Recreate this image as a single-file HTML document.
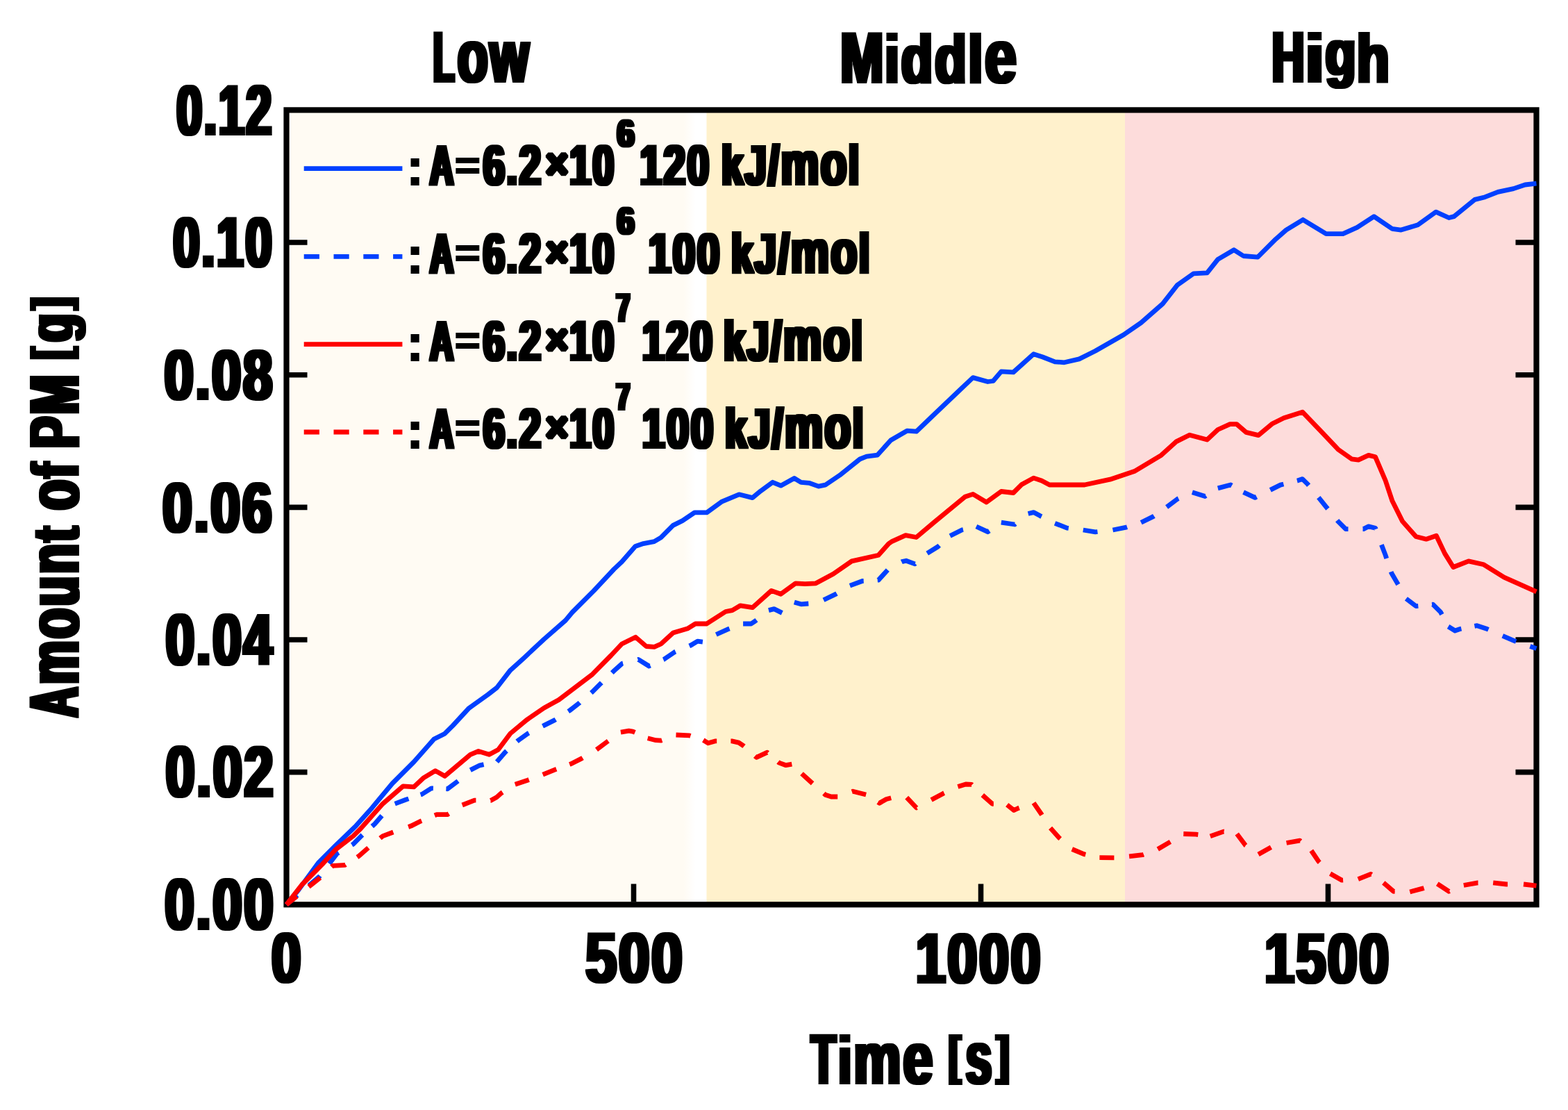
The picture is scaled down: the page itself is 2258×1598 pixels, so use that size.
<!DOCTYPE html>
<html><head><meta charset="utf-8"><title>Amount of PM vs Time</title>
<style>html,body{margin:0;padding:0;background:#fff;}svg{display:block;}</style>
</head><body>
<svg width="2258" height="1598" viewBox="0 0 2258 1598">
<defs>
<filter id="f_title" filterUnits="userSpaceOnUse" x="0" y="0" width="2258" height="1598"><feMorphology operator="dilate" radius="3 1"/></filter>
<filter id="f_title_rot" filterUnits="userSpaceOnUse" x="0" y="0" width="2258" height="1598"><feMorphology operator="dilate" radius="1 3"/></filter>
<filter id="f_tick" filterUnits="userSpaceOnUse" x="0" y="0" width="2258" height="1598"><feMorphology operator="dilate" radius="3 1"/></filter>
<filter id="f_tick_rot" filterUnits="userSpaceOnUse" x="0" y="0" width="2258" height="1598"><feMorphology operator="dilate" radius="1 3"/></filter>
<filter id="f_leg" filterUnits="userSpaceOnUse" x="0" y="0" width="2258" height="1598"><feMorphology operator="dilate" radius="3 1"/></filter>
<filter id="f_leg_rot" filterUnits="userSpaceOnUse" x="0" y="0" width="2258" height="1598"><feMorphology operator="dilate" radius="1 3"/></filter>
<filter id="f_sup" filterUnits="userSpaceOnUse" x="0" y="0" width="2258" height="1598"><feMorphology operator="dilate" radius="2 1"/></filter>
<filter id="f_sup_rot" filterUnits="userSpaceOnUse" x="0" y="0" width="2258" height="1598"><feMorphology operator="dilate" radius="1 2"/></filter>
</defs>
<linearGradient id="gl" gradientUnits="userSpaceOnUse" x1="984" y1="0" x2="1002" y2="0"><stop offset="0" stop-color="#fffbf3"/><stop offset="1" stop-color="#ffffff"/></linearGradient>
<rect x="416" y="162" width="602" height="1137" fill="url(#gl)"/>
<rect x="1017.5" y="162" width="602.5" height="1137" fill="#fff1cc"/>
<rect x="1620" y="162" width="590" height="1137" fill="#fddcdb"/>
<rect x="412.5" y="158.4" width="1800" height="1143.9" fill="none" stroke="#000" stroke-width="8.2"/>
<path d="M416 1111.65H442.5M2182.5 1111.65H2209M416 921.00H442.5M2182.5 921.00H2209M416 730.35H442.5M2182.5 730.35H2209M416 539.70H442.5M2182.5 539.70H2209M416 349.05H442.5M2182.5 349.05H2209M912.5 1272.5V1298.5M1412.5 1272.5V1298.5M1912.5 1272.5V1298.5" stroke="#000" stroke-width="7.6" fill="none"/>
<g fill="none" stroke-width="6.8" stroke-linejoin="round">
<polyline points="412.5,1302.3 430.0,1281.0 458.2,1242.4 483.4,1217.2 512.5,1189.1 535.8,1162.9 564.9,1128.0 595.9,1097.0 625.0,1064.0 640.5,1056.2 652.1,1044.6 675.4,1019.4 702.6,1000.0 715.5,990.0 734.9,964.9 754.3,947.4 783.4,920.2 814.4,893.1 824.1,881.5 855.2,850.4 884.2,819.4 895.5,808.7 914.9,786.4 926.5,782.6 942.1,779.6 951.8,773.8 969.2,756.4 982.8,749.6 1000.2,737.9 1017.7,737.9 1039.0,722.4 1064.2,711.8 1083.6,716.6 1095.3,706.9 1112.7,694.3 1124.4,699.2 1143.8,688.5 1153.5,694.3 1165.1,695.3 1178.7,700.1 1188.4,698.2 1209.1,684.3 1238.2,661.0 1247.9,657.1 1263.4,655.2 1282.8,633.8 1306.1,620.2 1319.6,621.2 1344.9,597.0 1385.6,558.2 1401.1,543.6 1422.4,549.5 1430.2,548.5 1441.8,534.9 1459.3,535.9 1488.4,509.7 1501.6,514.0 1519.1,520.8 1532.7,521.8 1554.0,516.9 1577.3,505.3 1618.0,482.0 1643.2,464.6 1674.3,437.4 1695.6,410.2 1718.9,393.8 1738.3,392.8 1753.8,373.4 1777.0,359.8 1790.6,368.5 1811.2,370.2 1837.2,344.2 1852.1,331.1 1876.3,316.3 1909.7,336.7 1933.9,336.7 1954.4,327.4 1978.6,311.6 2004.6,329.3 2017.6,331.1 2041.8,323.7 2067.9,305.1 2086.5,313.5 2093.9,311.6 2123.7,287.4 2138.5,283.7 2157.1,276.3 2179.5,271.6 2196.2,266.0 2212.5,264.2" stroke="#0040ff"/>
<path d="M412.5 1302.3L428.2 1288.8M444.9 1274.5L448.5 1271.5L460.0 1261.8L460.8 1260.8M474.2 1243.3L485.3 1228.9L487.7 1227.5M506.7 1216.4L508.6 1215.3L520.2 1203.6L521.9 1202.0M535.8 1189.6L539.6 1186.2L550.0 1174.2M568.7 1157.1L584.3 1151.3L588.4 1149.9M605.6 1144.1L607.5 1143.5L621.1 1134.8L623.9 1134.9M642.4 1135.7L644.4 1135.8L659.6 1124.4M677.3 1108.6L690.9 1101.8L696.6 1100.6M715.5 1096.7L727.2 1083.2L729.5 1081.1M744.6 1067.4L746.5 1065.7L760.1 1056.0L761.6 1055.2M781.5 1045.3L783.4 1044.4L798.9 1036.6L800.2 1035.8M818.3 1024.2L820.2 1023.0L833.8 1012.4L834.9 1011.4M851.3 997.5L853.2 995.9L864.9 984.2L866.3 982.8M881.3 968.6L884.2 965.8L895.9 955.2L897.1 954.9M918.5 949.5L919.2 949.3L934.7 959.0L936.5 958.2M955.3 949.6L956.0 949.3L971.5 938.7L972.8 938.1M992.7 929.9L994.8 929.0L1004.5 923.2L1011.9 924.1M1031.3 913.5L1048.7 905.7L1050.5 905.0M1070.1 898.0L1081.7 898.0L1087.5 894.1L1089.4 892.6M1106.9 878.6L1114.7 876.6L1126.3 882.4M1143.8 866.9L1153.5 869.8L1164.3 869.0M1186.0 863.7L1203.9 855.1L1204.9 854.5M1223.9 843.1L1241.8 836.5L1243.7 836.4M1263.7 835.2L1265.0 835.1L1278.3 820.5M1298.3 808.9L1298.9 808.6L1304.9 807.2L1317.5 811.9L1318.0 811.4M1335.2 796.7L1350.7 787.0L1352.7 785.2M1368.1 771.5L1385.6 762.8L1387.0 762.5M1405.9 758.0L1422.4 765.7L1424.7 764.1M1441.8 752.1L1461.2 755.0L1462.3 754.1M1480.6 739.5L1488.4 737.6L1497.8 742.6L1499.9 743.6M1519.1 753.3L1536.5 760.1L1538.8 760.4M1559.8 763.0L1577.3 765.9L1580.5 765.5M1602.5 763.0L1621.9 759.1L1623.1 758.7M1643.2 752.3L1660.7 743.6L1661.9 742.8M1680.1 730.0L1695.6 718.4L1697.1 717.7M1716.9 708.7L1735.3 714.5L1736.7 713.6M1753.8 702.9L1772.2 698.0L1773.9 699.0M1790.6 708.7L1807.3 716.4L1809.6 715.2M1829.3 705.4L1843.9 698.1L1848.4 697.0M1867.9 692.1L1868.3 692.0L1875.6 689.6L1883.0 696.9L1884.6 698.8M1898.8 716.1L1900.0 717.6L1909.8 729.8L1912.0 732.5M1925.7 749.1L1926.9 750.6L1937.9 761.6L1941.5 761.6M1962.5 761.6L1963.5 761.6L1970.8 757.9L1980.6 760.3L1981.2 761.9M1989.4 784.3L1995.2 799.4L1996.7 804.0M2003.2 823.2L2003.8 825.0L2012.3 839.6L2013.4 841.5M2024.9 861.9L2039.1 872.6L2042.3 872.3M2062.0 870.3L2063.5 870.2L2074.5 881.1L2076.4 884.6M2085.6 902.0L2095.3 908.0L2102.6 905.5L2104.4 905.1M2123.4 901.4L2127.0 900.7L2141.6 905.5L2143.4 906.3M2163.8 915.4L2180.7 922.6L2183.2 923.5M2203.4 930.5L2212.5 933.6" stroke="#0040ff" stroke-linejoin="round"/>
<polyline points="412.5,1302.3 429.0,1281.2 434.9,1273.5 448.5,1260.0 464.0,1244.4 483.4,1223.0 508.6,1203.6 520.2,1192.0 551.3,1157.1 580.4,1131.9 595.9,1132.9 609.5,1120.2 626.9,1109.6 640.5,1117.3 677.3,1086.3 689.0,1081.5 704.5,1086.3 717.5,1079.3 734.9,1056.0 758.2,1036.6 783.4,1019.2 804.7,1007.5 853.2,970.7 880.0,943.5 895.5,927.0 915.3,917.3 930.6,930.5 942.2,931.4 951.9,927.0 969.4,911.0 990.7,904.7 1001.4,898.0 1017.7,898.0 1044.9,880.5 1054.6,878.6 1066.2,871.8 1083.6,874.7 1110.8,850.4 1124.4,855.3 1145.7,839.8 1159.3,840.7 1174.8,839.8 1200.0,826.2 1226.5,807.9 1265.0,799.3 1279.7,782.7 1284.7,779.3 1304.1,770.6 1319.6,773.5 1344.9,752.1 1389.5,715.3 1401.1,711.4 1420.5,723.0 1441.8,707.5 1459.3,709.5 1470.9,697.8 1488.4,688.1 1500.0,692.0 1511.3,698.0 1561.8,698.0 1598.6,690.2 1633.5,678.6 1672.3,655.3 1693.6,635.9 1713.0,626.2 1738.3,633.0 1753.8,618.5 1771.2,610.7 1780.9,610.7 1794.5,622.4 1812.2,626.6 1831.7,610.3 1848.8,601.7 1875.6,593.2 1902.5,621.2 1926.9,646.9 1946.4,660.8 1956.2,662.2 1970.8,655.4 1980.6,657.8 1995.2,692.0 2005.0,721.3 2019.6,750.6 2039.1,772.5 2053.8,776.2 2068.4,771.3 2080.6,796.9 2092.8,816.5 2114.8,807.9 2136.7,812.8 2166.0,831.1 2212.5,851.8" stroke="#ff0000"/>
<path d="M412.5 1302.3L427.4 1290.4M444.6 1276.6L448.5 1273.5L461.1 1263.6M477.6 1248.1L479.5 1246.3L497.0 1245.3L497.7 1244.8M514.4 1234.0L516.4 1232.7L530.4 1220.5M547.4 1206.7L551.3 1203.6L566.3 1198.0M588.1 1190.4L592.0 1189.1L605.6 1182.3L607.1 1181.7M625.9 1173.8L628.9 1172.6L644.4 1172.6L646.3 1171.4M665.7 1159.0L683.2 1152.2L685.4 1152.2M706.5 1152.4L706.6 1152.4L715.2 1147.8L721.9 1141.8L723.7 1140.6M741.8 1129.2L759.8 1123.2L761.7 1122.5M781.7 1115.2L799.6 1107.9L801.2 1107.3M820.2 1100.4L822.2 1099.7L837.7 1091.9L839.0 1091.1M859.0 1079.3L874.6 1067.6L875.8 1066.7M893.9 1054.1L905.6 1052.1L911.4 1053.1L914.4 1054.4M932.7 1062.8L944.4 1065.7L952.1 1066.1L953.3 1065.7M973.5 1058.0L992.9 1058.9L994.4 1059.4M1012.8 1065.5L1019.8 1069.8L1029.8 1066.9L1032.2 1066.9M1052.4 1066.9L1053.9 1066.9L1063.8 1069.1L1070.2 1073.3L1071.5 1074.4M1087.2 1088.4L1089.3 1090.3L1104.9 1083.2L1105.7 1083.9M1120.5 1096.9L1121.9 1098.1L1131.8 1101.7L1140.3 1100.2M1154.5 1113.8L1155.9 1115.1L1170.1 1127.9M1186.4 1142.3L1188.5 1144.2L1197.0 1147.0L1206.2 1147.0M1226.8 1139.7L1228.2 1139.2L1247.1 1144.0M1264.3 1154.8L1266.4 1156.2L1276.4 1150.5L1283.2 1148.8M1305.7 1148.1L1319.8 1163.0L1320.2 1162.8M1341.1 1151.6L1358.1 1142.4L1359.6 1141.7M1379.4 1132.5L1390.7 1129.0L1399.2 1129.4L1399.7 1129.9M1414.8 1144.6L1429.0 1157.3L1430.9 1157.4M1450.2 1158.7L1460.1 1166.5L1465.8 1163.7L1467.7 1163.0M1488.5 1155.9L1499.8 1172.2L1500.4 1173.2M1512.6 1192.0L1525.3 1206.2L1526.8 1207.5M1543.8 1222.5L1560.8 1229.6L1563.3 1230.2M1583.4 1234.6L1604.1 1234.8L1604.4 1234.8M1626.1 1232.8L1645.3 1230.7L1646.9 1230.1M1667.3 1222.5L1683.7 1212.9L1685.4 1211.9M1704.3 1200.5L1722.2 1201.2L1725.3 1201.6M1742.8 1203.9L1762.0 1197.1L1762.6 1197.2M1781.2 1200.5L1793.6 1217.0L1793.9 1217.2M1812.1 1230.0L1830.4 1219.8M1852.6 1213.5L1871.8 1210.1L1872.9 1211.1M1888.3 1224.5L1898.8 1240.2L1900.3 1241.7M1915.6 1257.7L1932.4 1267.2L1934.1 1267.1M1955.8 1265.7L1974.0 1258.4L1975.2 1259.2M1992.3 1270.8L2006.9 1283.3L2008.7 1283.4M2030.3 1284.0L2049.3 1278.9L2050.6 1278.5M2069.8 1272.3L2086.6 1283.3L2087.4 1282.9M2107.8 1274.5L2128.2 1270.8L2128.5 1270.8M2150.2 1270.8L2169.2 1273.0L2171.1 1273.0M2194.0 1273.0L2212.5 1275.2" stroke="#ff0000" stroke-linejoin="round"/>
<path d="M437.7 242.6H579.4" stroke="#0040ff"/>
<path d="M437.7 369.3H579.4" stroke="#0040ff" stroke-dasharray="22.2 20.6"/>
<path d="M437.7 495.7H579.4" stroke="#ff0000"/>
<path d="M437.7 622H579.4" stroke="#ff0000" stroke-dasharray="22.2 20.6"/>
</g>
<g fill="#000">
<g filter="url(#f_title)"><text font-family="'Liberation Sans', sans-serif" font-weight="bold"><tspan x="624.10" y="118.00" font-size="103.043" letter-spacing="6.248" textLength="33.227" lengthAdjust="spacingAndGlyphs">L</tspan><tspan x="658.67" y="118.00" font-size="98.090" letter-spacing="4.503" textLength="105.826" lengthAdjust="spacingAndGlyphs"><tspan style="font-size:1.1em">o</tspan><tspan style="font-size:1.1em">w</tspan></tspan></text></g>
<g filter="url(#f_title)"><text font-family="'Liberation Sans', sans-serif" font-weight="bold"><tspan x="1209.90" y="119.10" font-size="104.203" letter-spacing="4.168" textLength="65.477" lengthAdjust="spacingAndGlyphs">M</tspan><tspan x="1274.20" y="119.10" font-size="98.945" letter-spacing="3.996" textLength="192.476" lengthAdjust="spacingAndGlyphs">iddl<tspan style="font-size:1.1em">e</tspan></tspan></text></g>
<g filter="url(#f_title)"><text font-family="'Liberation Sans', sans-serif" font-weight="bold"><tspan x="1831.56" y="118.20" font-size="103.043" letter-spacing="4.750" textLength="50.003" lengthAdjust="spacingAndGlyphs">H</tspan><tspan x="1878.93" y="118.20" font-size="97.844" letter-spacing="2.865" textLength="31.463" lengthAdjust="spacingAndGlyphs">i</tspan><tspan x="1908.51" y="108.47" font-size="91.062" letter-spacing="3.778" textLength="47.176" lengthAdjust="spacingAndGlyphs">g</tspan><tspan x="1953.82" y="118.20" font-size="97.844" letter-spacing="3.818" textLength="49.961" lengthAdjust="spacingAndGlyphs">h</tspan></text></g>
<g filter="url(#f_leg)"><text font-family="'Liberation Sans', sans-serif" font-weight="bold"><tspan x="590.32" y="266.40" font-size="72.434" letter-spacing="4.089" textLength="17.248" lengthAdjust="spacingAndGlyphs">:</tspan> <tspan x="619.04" y="266.40" font-size="81.884" letter-spacing="4.340" textLength="36.562" lengthAdjust="spacingAndGlyphs">A</tspan><tspan x="656.97" y="256.59" font-size="55.752" letter-spacing="2.497" textLength="35.105" lengthAdjust="spacingAndGlyphs">=</tspan><tspan x="695.74" y="266.40" font-size="80.857" letter-spacing="3.591" textLength="85.758" lengthAdjust="spacingAndGlyphs">6.2</tspan><tspan x="786.03" y="258.48" font-size="64.600" letter-spacing="2.949" textLength="34.482" lengthAdjust="spacingAndGlyphs">×</tspan><tspan x="820.30" y="266.40" font-size="80.857" letter-spacing="3.658" textLength="66.459" lengthAdjust="spacingAndGlyphs">10</tspan><tspan x="888.87" y="210.50" font-size="55.714" letter-spacing="2.505" textLength="26.741" lengthAdjust="spacingAndGlyphs">6</tspan> <tspan x="921.40" y="266.40" font-size="80.857" letter-spacing="3.548" textLength="102.348" lengthAdjust="spacingAndGlyphs">120</tspan> <tspan x="1039.08" y="266.40" font-size="80.642" letter-spacing="3.600" textLength="200.815" lengthAdjust="spacingAndGlyphs">kJ/<tspan style="font-size:1.1em">m</tspan><tspan style="font-size:1.1em">o</tspan>l</tspan></text></g>
<g filter="url(#f_leg)"><text font-family="'Liberation Sans', sans-serif" font-weight="bold"><tspan x="590.32" y="392.60" font-size="72.434" letter-spacing="4.089" textLength="17.248" lengthAdjust="spacingAndGlyphs">:</tspan> <tspan x="619.04" y="392.60" font-size="81.884" letter-spacing="4.340" textLength="36.562" lengthAdjust="spacingAndGlyphs">A</tspan><tspan x="656.97" y="382.79" font-size="55.752" letter-spacing="2.497" textLength="35.105" lengthAdjust="spacingAndGlyphs">=</tspan><tspan x="695.74" y="392.60" font-size="80.857" letter-spacing="3.591" textLength="85.758" lengthAdjust="spacingAndGlyphs">6.2</tspan><tspan x="786.03" y="384.68" font-size="64.600" letter-spacing="2.949" textLength="34.482" lengthAdjust="spacingAndGlyphs">×</tspan><tspan x="820.30" y="392.60" font-size="80.857" letter-spacing="3.658" textLength="66.459" lengthAdjust="spacingAndGlyphs">10</tspan><tspan x="888.87" y="337.00" font-size="56.429" letter-spacing="2.537" textLength="26.741" lengthAdjust="spacingAndGlyphs">6</tspan> <tspan x="933.69" y="392.60" font-size="80.857" letter-spacing="3.453" textLength="105.181" lengthAdjust="spacingAndGlyphs">100</tspan> <tspan x="1053.06" y="392.60" font-size="80.642" letter-spacing="3.576" textLength="201.870" lengthAdjust="spacingAndGlyphs">kJ/<tspan style="font-size:1.1em">m</tspan><tspan style="font-size:1.1em">o</tspan>l</tspan></text></g>
<g filter="url(#f_leg)"><text font-family="'Liberation Sans', sans-serif" font-weight="bold"><tspan x="590.32" y="519.00" font-size="72.434" letter-spacing="4.089" textLength="17.248" lengthAdjust="spacingAndGlyphs">:</tspan> <tspan x="619.04" y="519.00" font-size="81.884" letter-spacing="4.340" textLength="36.562" lengthAdjust="spacingAndGlyphs">A</tspan><tspan x="656.97" y="509.19" font-size="55.752" letter-spacing="2.497" textLength="35.105" lengthAdjust="spacingAndGlyphs">=</tspan><tspan x="695.74" y="519.00" font-size="80.857" letter-spacing="3.591" textLength="85.758" lengthAdjust="spacingAndGlyphs">6.2</tspan><tspan x="786.03" y="511.08" font-size="64.600" letter-spacing="2.949" textLength="34.482" lengthAdjust="spacingAndGlyphs">×</tspan><tspan x="820.30" y="519.00" font-size="80.857" letter-spacing="3.658" textLength="66.459" lengthAdjust="spacingAndGlyphs">10</tspan><tspan x="887.72" y="463.30" font-size="56.522" letter-spacing="3.321" textLength="20.934" lengthAdjust="spacingAndGlyphs">7</tspan> <tspan x="924.85" y="519.00" font-size="80.857" letter-spacing="3.511" textLength="103.564" lengthAdjust="spacingAndGlyphs">120</tspan> <tspan x="1042.05" y="519.00" font-size="80.642" letter-spacing="3.567" textLength="202.362" lengthAdjust="spacingAndGlyphs">kJ/<tspan style="font-size:1.1em">m</tspan><tspan style="font-size:1.1em">o</tspan>l</tspan></text></g>
<g filter="url(#f_leg)"><text font-family="'Liberation Sans', sans-serif" font-weight="bold"><tspan x="590.32" y="645.30" font-size="72.434" letter-spacing="4.089" textLength="17.248" lengthAdjust="spacingAndGlyphs">:</tspan> <tspan x="619.04" y="645.30" font-size="81.884" letter-spacing="4.340" textLength="36.562" lengthAdjust="spacingAndGlyphs">A</tspan><tspan x="656.97" y="635.49" font-size="55.752" letter-spacing="2.497" textLength="35.105" lengthAdjust="spacingAndGlyphs">=</tspan><tspan x="695.74" y="645.30" font-size="80.857" letter-spacing="3.591" textLength="85.758" lengthAdjust="spacingAndGlyphs">6.2</tspan><tspan x="786.03" y="637.38" font-size="64.600" letter-spacing="2.949" textLength="34.482" lengthAdjust="spacingAndGlyphs">×</tspan><tspan x="820.30" y="645.30" font-size="80.857" letter-spacing="3.658" textLength="66.459" lengthAdjust="spacingAndGlyphs">10</tspan><tspan x="887.72" y="589.50" font-size="55.507" letter-spacing="3.261" textLength="20.934" lengthAdjust="spacingAndGlyphs">7</tspan> <tspan x="924.80" y="645.30" font-size="80.857" letter-spacing="3.456" textLength="105.081" lengthAdjust="spacingAndGlyphs">100</tspan> <tspan x="1044.06" y="645.30" font-size="80.642" letter-spacing="3.574" textLength="201.970" lengthAdjust="spacingAndGlyphs">kJ/<tspan style="font-size:1.1em">m</tspan><tspan style="font-size:1.1em">o</tspan>l</tspan></text></g>
<g filter="url(#f_tick)"><text font-family="'Liberation Sans', sans-serif" font-weight="bold"><tspan x="254.13" y="193.78" font-size="101.690" letter-spacing="3.813" textLength="139.753" lengthAdjust="spacingAndGlyphs">0.12</tspan></text></g>
<g filter="url(#f_tick)"><text font-family="'Liberation Sans', sans-serif" font-weight="bold"><tspan x="249.33" y="384.38" font-size="101.690" letter-spacing="3.670" textLength="144.829" lengthAdjust="spacingAndGlyphs">0.10</tspan></text></g>
<g filter="url(#f_tick)"><text font-family="'Liberation Sans', sans-serif" font-weight="bold"><tspan x="236.45" y="574.78" font-size="102.254" letter-spacing="3.350" textLength="158.538" lengthAdjust="spacingAndGlyphs">0.08</tspan></text></g>
<g filter="url(#f_tick)"><text font-family="'Liberation Sans', sans-serif" font-weight="bold"><tspan x="234.01" y="765.57" font-size="102.535" letter-spacing="3.329" textLength="160.149" lengthAdjust="spacingAndGlyphs">0.06</tspan></text></g>
<g filter="url(#f_tick)"><text font-family="'Liberation Sans', sans-serif" font-weight="bold"><tspan x="238.60" y="956.57" font-size="102.958" letter-spacing="3.433" textLength="156.185" lengthAdjust="spacingAndGlyphs">0.04</tspan></text></g>
<g filter="url(#f_tick)"><text font-family="'Liberation Sans', sans-serif" font-weight="bold"><tspan x="238.57" y="1147.27" font-size="102.958" letter-spacing="3.397" textLength="157.456" lengthAdjust="spacingAndGlyphs">0.02</tspan></text></g>
<g filter="url(#f_tick)"><text font-family="'Liberation Sans', sans-serif" font-weight="bold"><tspan x="237.34" y="1337.97" font-size="102.958" letter-spacing="3.365" textLength="158.898" lengthAdjust="spacingAndGlyphs">0.00</tspan></text></g>
<g filter="url(#f_tick)"><text font-family="'Liberation Sans', sans-serif" font-weight="bold"><tspan x="390.94" y="1414.48" font-size="101.549" letter-spacing="3.315" textLength="45.087" lengthAdjust="spacingAndGlyphs">0</tspan></text></g>
<g filter="url(#f_tick)"><text font-family="'Liberation Sans', sans-serif" font-weight="bold"><tspan x="843.28" y="1414.48" font-size="101.549" letter-spacing="3.145" textLength="142.186" lengthAdjust="spacingAndGlyphs">500</tspan></text></g>
<g filter="url(#f_tick)"><text font-family="'Liberation Sans', sans-serif" font-weight="bold"><tspan x="1318.80" y="1414.69" font-size="101.268" letter-spacing="3.270" textLength="182.216" lengthAdjust="spacingAndGlyphs">1000</tspan></text></g>
<g filter="url(#f_tick)"><text font-family="'Liberation Sans', sans-serif" font-weight="bold"><tspan x="1821.12" y="1414.69" font-size="101.268" letter-spacing="3.289" textLength="181.529" lengthAdjust="spacingAndGlyphs">1500</tspan></text></g>
<g filter="url(#f_title)"><text font-family="'Liberation Sans', sans-serif" font-weight="bold"><tspan x="1168.02" y="1560.40" font-size="101.884" letter-spacing="5.242" textLength="38.618" lengthAdjust="spacingAndGlyphs">T</tspan><tspan x="1206.92" y="1560.40" font-size="96.743" letter-spacing="4.164" textLength="139.168" lengthAdjust="spacingAndGlyphs">i<tspan style="font-size:1.1em">m</tspan><tspan style="font-size:1.1em">e</tspan></tspan> <tspan x="1366.11" y="1544.83" font-size="75.321" letter-spacing="4.281" textLength="20.578" lengthAdjust="spacingAndGlyphs">[</tspan><tspan x="1390.75" y="1560.12" font-size="97.624" letter-spacing="4.775" textLength="40.522" lengthAdjust="spacingAndGlyphs"><tspan style="font-size:1.1em">s</tspan></tspan><tspan x="1434.96" y="1544.83" font-size="75.321" letter-spacing="4.076" textLength="21.464" lengthAdjust="spacingAndGlyphs">]</tspan></text></g>
<g filter="url(#f_title_rot)"><text transform="rotate(-90)" font-family="'Liberation Sans', sans-serif" font-weight="bold"><tspan x="-1032.49" y="112.50" font-size="100.435" letter-spacing="5.047" textLength="46.116" lengthAdjust="spacingAndGlyphs">A</tspan><tspan x="-985.54" y="112.50" font-size="94.954" letter-spacing="4.404" textLength="322.201" lengthAdjust="spacingAndGlyphs"><tspan style="font-size:1.1em">m</tspan><tspan style="font-size:1.1em">o</tspan><tspan style="font-size:1.1em">u</tspan><tspan style="font-size:1.1em">n</tspan>t <tspan style="font-size:1.1em">o</tspan>f</tspan> <tspan x="-645.59" y="112.50" font-size="100.000" letter-spacing="4.361" textLength="109.193" lengthAdjust="spacingAndGlyphs">PM</tspan> <tspan x="-517.31" y="97.53" font-size="74.357" letter-spacing="4.351" textLength="20.074" lengthAdjust="spacingAndGlyphs">[</tspan><tspan x="-492.29" y="103.60" font-size="89.071" letter-spacing="3.979" textLength="44.020" lengthAdjust="spacingAndGlyphs">g</tspan><tspan x="-445.18" y="97.53" font-size="74.357" letter-spacing="4.351" textLength="20.074" lengthAdjust="spacingAndGlyphs">]</tspan></text></g>
</g>
</svg>
</body></html>
